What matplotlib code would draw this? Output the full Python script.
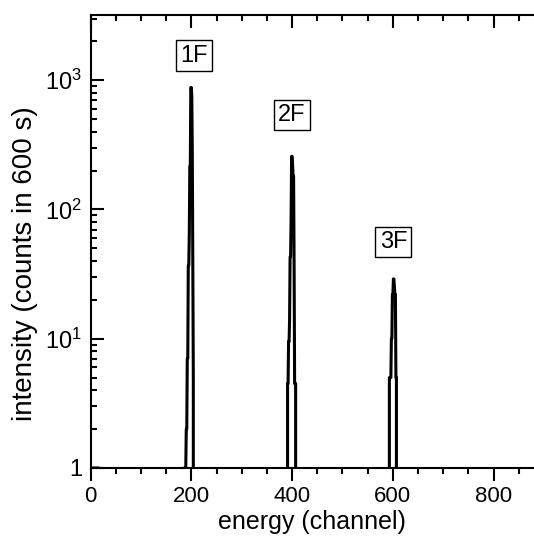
import numpy as np
import matplotlib
matplotlib.use("Agg")
import matplotlib.pyplot as plt
from matplotlib.ticker import FixedLocator, FuncFormatter, LogLocator, MultipleLocator

# spectrum pieces (channel of first value, counts per channel)
baseline_start = 0
baseline_counts = [1] * 17
peak1_start = 186
peak1_counts = [1, 1, 1, 1, 2, 2, 7, 7, 37, 37, 64, 216, 216, 880, 880, 750, 270, 34, 5]
peak2_start = 391
peak2_counts = [4.5, 4.5, 9.5, 9.5, 14, 43, 43, 83, 258, 258, 220, 180, 180, 36, 4.5, 4.5, 4.5]
peak3_start = 593
peak3_counts = [5, 5, 5, 5, 10, 10, 22, 22, 29, 29, 25, 22, 22, 5, 5]
n_channels = 881

labels = ["1F", "2F", "3F"]
label_x = [205, 400, 601]
label_y = [1550, 540, 56]

counts = np.zeros(n_channels)
for start, vals in [(baseline_start, baseline_counts), (peak1_start, peak1_counts),
                    (peak2_start, peak2_counts), (peak3_start, peak3_counts)]:
    counts[start:start + len(vals)] = vals
channels = np.arange(n_channels)

plt.rcParams.update({"font.family": ["Liberation Sans", "DejaVu Sans"], "font.size": 16,
                     "mathtext.fontset": "custom", "mathtext.rm": "Liberation Sans",
                     "mathtext.it": "Liberation Sans", "mathtext.bf": "Liberation Sans"})

fig = plt.figure(figsize=(5.34, 5.41), dpi=100)
ax = fig.add_axes([0.1695, 0.135, 0.8305, 0.8373])
ax.plot(channels, counts, color="black", lw=2.2)
ax.set_yscale("log", nonpositive="clip")
ax.set_xlim(0, 880)
ax.set_ylim(1, 3200)

ax.xaxis.set_major_locator(MultipleLocator(200))
ax.xaxis.set_minor_locator(MultipleLocator(50))
ax.yaxis.set_major_locator(FixedLocator([1, 10, 100, 1000]))
ax.yaxis.set_minor_locator(LogLocator(base=10, subs=np.arange(2, 10)))
ax.yaxis.set_major_formatter(FuncFormatter(
    lambda v, p: "1" if v == 1 else r"$10^{%d}$" % round(np.log10(v))))
ax.yaxis.set_minor_formatter(FuncFormatter(lambda v, p: ""))

ax.tick_params(axis="x", which="both", direction="out", top=True, width=1.5, labelsize=16, pad=4)
ax.tick_params(axis="y", which="both", direction="in", width=1.5, labelsize=17, pad=6)
ax.tick_params(which="major", length=9)
ax.tick_params(which="minor", length=4.5)
# top ticks point into the frame
for t in ax.xaxis.get_major_ticks() + ax.xaxis.get_minor_ticks():
    t.tick2line.set_marker(matplotlib.lines.TICKDOWN)
for s in ["left", "bottom", "top"]:
    ax.spines[s].set_linewidth(1.5)
ax.spines["right"].set_visible(False)

ax.set_xlabel("energy (channel)", fontsize=18, labelpad=2)
ax.set_ylabel("intensity (counts in 600 s)", fontsize=20, va="center")
ax.yaxis.set_label_coords(-0.148, 0.45)

for lab, x, y in zip(labels, label_x, label_y):
    ax.text(x, y, lab, ha="center", va="center", fontsize=17,
            bbox=dict(boxstyle="square,pad=0.18", fc="white", ec="black", lw=1))

fig.savefig("out.png", dpi=100)
